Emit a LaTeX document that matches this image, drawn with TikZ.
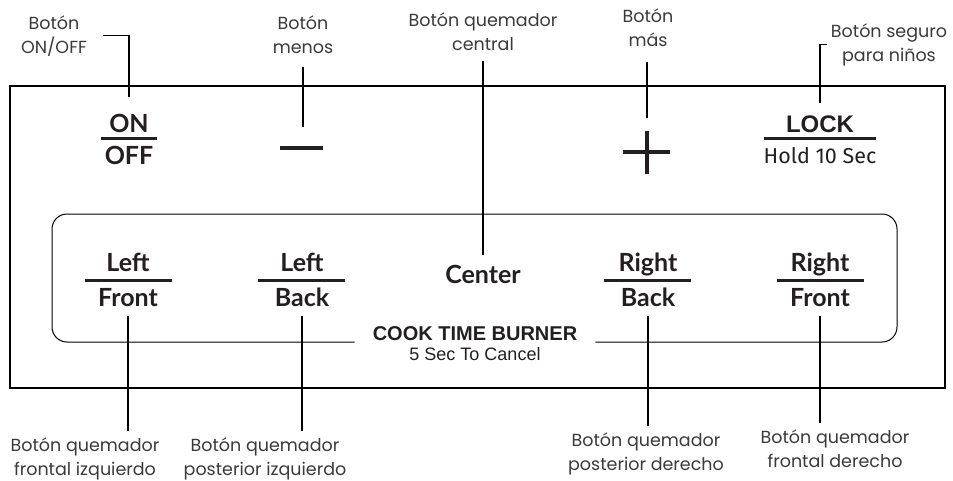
\documentclass[tikz,border=0pt]{standalone}
\usepackage{fontspec}
\usepackage{xcolor}
\usepackage{tikz}
\usetikzlibrary{positioning}
\newfontfamily\labelfont{Poppins}
\newfontfamily\panelfont{Lato}
\newfontfamily\holdfont{Fira Sans}
\newfontfamily\arialfont{Liberation Sans}
\definecolor{inkgray}{HTML}{231F20}
\definecolor{labelgray}{HTML}{3A3A3A}

\begin{document}
\begin{tikzpicture}[x=1pt, y=-1pt,
  lbl/.style={align=center, anchor=base, inner sep=0pt, font=\labelfont\fontsize{17.5}{24}\selectfont, text=labelgray},
  btn/.style={anchor=base, inner sep=0pt, font=\panelfont\bfseries\fontsize{25}{30}\selectfont, text=inkgray},
  leader/.style={line width=1.5pt},
  bar/.style={line width=3pt, inkgray},
  knob/.style={fill=inkgray, inner sep=0pt},
  frame/.style={line width=1.5pt},
  panel/.style={line width=1pt, rounded corners=15pt}
]
  \useasboundingbox (0,0) rectangle (953,480);

  % outer frame
  \draw[frame] (10,86) rectangle (945,388);

  % top row keys
  \node[btn] (on) at (129,132) {ON};
  \node[btn] (off) at (129,164) {OFF};
  \draw[bar] (101,138) -- (157,138);
  \node[knob, minimum width=43pt, minimum height=4.5pt] (minus) at (301,148) {};
  \node[knob, minimum width=47pt, minimum height=4pt] (plush) at (646,152) {};
  \node[knob, minimum width=4pt, minimum height=43pt] (plusv) at (647,152) {};
  \node[btn, font=\arialfont\bfseries\fontsize{24}{28}\selectfont] (lock) at (820,132) {LOCK};
  \draw[bar] (764,138) -- (876,138);
  \node[btn, font=\holdfont\fontsize{21.5}{24}\selectfont] (hold) at (820,163) {Hold 10 Sec};

  % burner keys
  \node[btn] (lfT) at (128,271) {Left};
  \node[btn] (lfB) at (128,306) {Front};
  \draw[bar] (85,280) -- (172,280);
  \node[btn] (lbT) at (302,271) {Left};
  \node[btn] (lbB) at (302,306) {Back};
  \draw[bar] (258,280) -- (345,280);
  \node[btn] (center) at (483,283) {Center};
  \node[btn] (rbT) at (648,271) {Right};
  \node[btn] (rbB) at (648,306) {Back};
  \draw[bar] (604,280) -- (691,280);
  \node[btn] (rfT) at (820,271) {Right};
  \node[btn] (rfB) at (820,306) {Front};
  \draw[bar] (777,280) -- (864,280);

  % cook time panel
  \node[anchor=base, inner xsep=18pt, text=inkgray, font=\arialfont\bfseries\fontsize{20}{24}\selectfont] (cook) at (475,340) {COOK TIME BURNER};
  \node[anchor=base, inner sep=0pt, text=inkgray, font=\arialfont\fontsize{18}{22}\selectfont] (cancel) at (475,360) {5 Sec To Cancel};
  \coordinate (pbot) at (0,342);
  \draw[panel] (cook.west |- pbot) -- (52,342) -- (52,214) -- (897,214) -- (897,342) -- (cook.east |- pbot);

  % labels (anchored at the baseline of the last line)
  \node[lbl] (lblOnOff) at (54,53) {Botón\\ON/OFF};
  \node[lbl] (lblMinus) at (303,53) {Botón\\menos};
  \node[lbl] (lblCenter) at (483,50) {Botón quemador\\central};
  \node[lbl] (lblPlus) at (648,46) {Botón\\más};
  \node[lbl] (lblLock) at (889,61) {Botón seguro\\para niños};
  \node[lbl] (lblLF) at (85,475) {Botón quemador\\frontal izquierdo};
  \node[lbl] (lblLB) at (265,475) {Botón quemador\\posterior izquierdo};
  \node[lbl] (lblRB) at (646,470) {Botón quemador\\posterior derecho};
  \node[lbl] (lblRF) at (835,467) {Botón quemador\\frontal derecho};

  % leaders
  \draw[leader] ([xshift=16pt]lblOnOff.east) -| ([yshift=17pt]on.north);
  \draw[leader] ([xshift=-4pt]lblLock.west) -| ([yshift=12pt]lock.north);
  \draw[leader, shorten <=14pt, shorten >=19pt] (lblMinus.south) -- (lblMinus.south |- minus.north);
  \draw[leader, shorten <=11pt, shorten >=10pt] (lblCenter.south) -- (lblCenter.south |- center.north);
  \draw[leader, shorten <=12pt, shorten >=16pt] (plusv.north) -- (plusv.north |- lblPlus.south);
  \draw[leader, shorten <=10pt, shorten >=6pt] (lfB.south) -- (lfB.south |- lblLF.north);
  \draw[leader, shorten <=10pt, shorten >=6pt] (lbB.south) -- (lbB.south |- lblLB.north);
  \draw[leader, shorten <=10pt, shorten >=6pt] (rbB.south) -- (rbB.south |- lblRB.north);
  \draw[leader, shorten <=10pt, shorten >=6pt] (rfB.south) -- (rfB.south |- lblRF.north);
\end{tikzpicture}
\end{document}
